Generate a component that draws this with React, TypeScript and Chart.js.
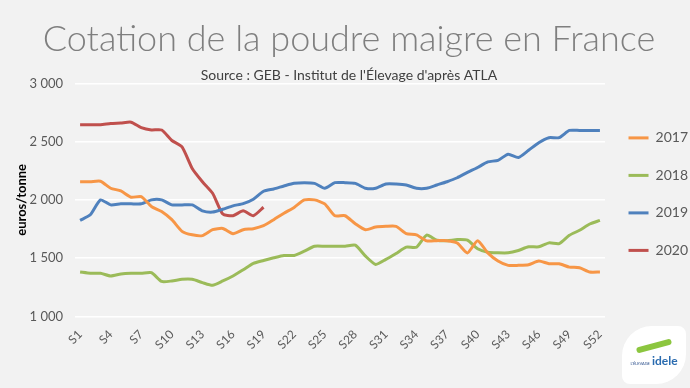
import React, { useEffect, useRef } from "react";
import { Chart, registerables } from "chart.js";

Chart.register(...registerables);

const weeks: string[] = Array.from({ length: 52 }, (_, i) => "S" + (i + 1));

const y2017: number[] = [
  2156, 2156, 2160, 2100, 2077, 2023, 2028, 1943, 1900, 1830,
  1730, 1700, 1693, 1744, 1755, 1710, 1744, 1753, 1778, 1830,
  1886, 1935, 2000, 2000, 1966, 1864, 1864, 1796, 1744, 1767,
  1773, 1773, 1710, 1700, 1648, 1650, 1650, 1630, 1545, 1650,
  1545, 1475, 1438, 1438, 1443, 1475, 1452, 1452, 1423, 1418,
  1381, 1381,
];
const y2018: number[] = [
  1381, 1370, 1370, 1347, 1364, 1370, 1370, 1375, 1300, 1304,
  1318, 1318, 1290, 1267, 1304, 1347, 1400, 1455, 1480, 1503,
  1523, 1523, 1560, 1602, 1602, 1602, 1602, 1611, 1517, 1446,
  1489, 1540, 1594, 1594, 1698, 1654, 1650, 1659, 1654, 1580,
  1551, 1546, 1546, 1566, 1597, 1597, 1631, 1625, 1696, 1739,
  1793, 1824,
];
const y2019: number[] = [
  1824, 1872, 2000, 1957, 1966, 1966, 1966, 2000, 2000, 1957,
  1957, 1957, 1906, 1895, 1920, 1949, 1968, 2006, 2074, 2094,
  2119, 2142, 2148, 2142, 2100, 2148, 2148, 2142, 2100, 2100,
  2136, 2136, 2128, 2100, 2100, 2128, 2156, 2190, 2236, 2278,
  2326, 2340, 2392, 2364, 2426, 2491, 2534, 2534, 2596, 2596,
  2596, 2596,
];
const y2020: number[] = [
  2645, 2645, 2645, 2655, 2660, 2667, 2620, 2600, 2600, 2510,
  2455, 2270, 2156, 2057, 1878, 1864, 1906, 1864, 1937,
];

const seriesNames = ["2017", "2018", "2019", "2020"];
const seriesColors = ["#F79646", "#9BBB59", "#4F81BD", "#C0504D"];
const seriesData = [y2017, y2018, y2019, y2020];

const titleText = "Cotation de la poudre maigre en France";
const subtitleText = "Source : GEB - Institut de l'Élevage d'après ATLA";
const yAxisTitle = "euros/tonne";

const FONT = "Lato, 'Open Sans', 'DejaVu Sans', sans-serif";

export default function App() {
  const ref = useRef<HTMLCanvasElement | null>(null);

  useEffect(() => {
    document.body.style.margin = "0";
    document.body.style.background = "#f2f2f2";
    const canvas = ref.current;
    if (!canvas) return;
    const chart = new Chart(canvas, {
      type: "line",
      data: {
        labels: weeks,
        datasets: seriesNames.map((name, i) => ({
          label: name,
          data: seriesData[i],
          borderColor: seriesColors[i],
          backgroundColor: seriesColors[i],
          borderWidth: 3,
          pointRadius: 0,
          tension: 0.2,
          fill: false,
        })),
      },
      options: {
        animation: false,
        responsive: false,
        maintainAspectRatio: false,
        layout: { padding: { left: 0, right: -8, top: 0, bottom: 33 } },
        plugins: {
          title: {
            display: true,
            text: titleText,
            color: "#7f7f7f",
            font: { family: FONT, size: 36, weight: "300" as any, lineHeight: 1.1 },
            padding: { top: 20, bottom: 7 },
          },
          subtitle: {
            display: true,
            text: subtitleText,
            color: "#404040",
            font: { family: FONT, size: 14 },
            padding: { top: 0, bottom: 0 },
          },
          legend: {
            position: "right",
            align: "start",
            title: { display: true, text: " ", font: { size: 12 }, padding: 46.5 },
            labels: {
              usePointStyle: true,
              pointStyle: "line",
              pointStyleWidth: 20,
              color: "#595959",
              font: { family: FONT, size: 14 },
              padding: 23.5,
            },
          },
          tooltip: { enabled: false },
        },
        scales: {
          x: {
            offset: true,
            grid: { display: false },
            border: { display: false },
            ticks: {
              autoSkip: false,
              maxRotation: 45,
              minRotation: 45,
              color: "#595959",
              font: { family: FONT, size: 12 },
              callback: (_v: any, idx: number) => (idx % 3 === 0 ? weeks[idx] : null),
            },
          },
          y: {
            min: 1000,
            max: 3000,
            border: { display: false },
            grid: { color: "#ffffff", lineWidth: 1.5, drawTicks: false },
            afterFit: (s: any) => {
              s.width = 75;
            },
            ticks: {
              stepSize: 500,
              padding: 12,
              color: "#595959",
              font: { family: FONT, size: 13 },
              callback: (v: any) => String(v).replace(/\B(?=(\d{3})+(?!\d))/g, " "),
            },
            title: {
              display: true,
              text: yAxisTitle,
              color: "#000000",
              font: { family: FONT, size: 13, weight: "bold" },
              padding: { top: 14, bottom: 0 },
            },
          },
        },
      },
    });
    return () => chart.destroy();
  }, []);

  return (
    <div style={{ position: "relative", width: 690, height: 388, background: "#f2f2f2" }}>
      <canvas ref={ref} width={690} height={388} style={{ display: "block" }} />
      <div
        style={{
          position: "absolute",
          left: 622,
          top: 326,
          width: 64,
          height: 58,
          background: "#ffffff",
          borderRadius: "30px 8px 30px 8px",
          display: "flex",
          flexDirection: "column",
          alignItems: "center",
          justifyContent: "center",
          fontFamily: FONT,
        }}
      >
        <div style={{ width: 36, height: 6, background: "#8cc63f", borderRadius: 4, transform: "rotate(-15deg)", marginBottom: 6 }} />
        <div style={{ display: "flex", alignItems: "baseline", gap: 2 }}>
          <span style={{ fontSize: 4, color: "#2b4f8c", lineHeight: 1 }}>L'ÉLEVAGE</span>
          <span style={{ fontSize: 12, fontWeight: 700, color: "#2b6cb0", lineHeight: 1 }}>idele</span>
        </div>
      </div>
    </div>
  );
}
